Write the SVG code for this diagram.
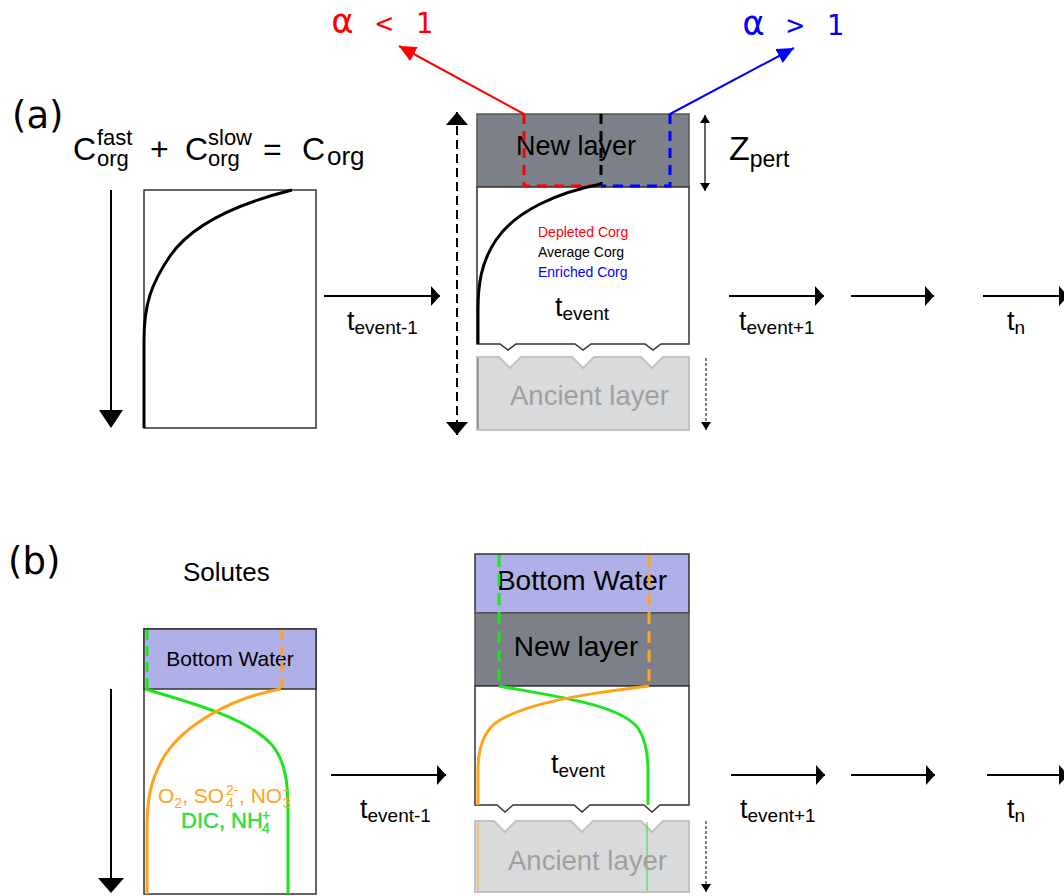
<svg xmlns="http://www.w3.org/2000/svg" width="1064" height="896" viewBox="0 0 1064 896">
<style>
.t{font-family:"Liberation Sans",Arial,sans-serif;fill:#000}
.dv{font-family:"DejaVu Sans",sans-serif;fill:#000}
.mono{font-family:"DejaVu Sans Mono",monospace}
.box{fill:#fff;stroke:#333;stroke-width:1.5}
.bw{fill:#b0b0e8;stroke:#333;stroke-width:1.5}
.nl{fill:#7b8089;stroke:#555;stroke-width:1.5}
.anc{fill:#d9dadc;stroke:#c2c2c2;stroke-width:2}
.anct{font-family:"Liberation Sans",Arial,sans-serif;fill:#a0a0a0;font-size:27.5px}
.blk{fill:none;stroke:#000;stroke-width:3}
.grn{fill:none;stroke:#1ee41e;stroke-width:3}
.org{fill:none;stroke:#ffa31a;stroke-width:3}
.tl{stroke:#000;stroke-width:2;fill:none;marker-end:url(#ah)}
</style>
<defs>
<marker id="ah" markerUnits="userSpaceOnUse" markerWidth="10" markerHeight="22" refX="9" refY="11" orient="auto"><path d="M0,1 L9,11 L0,21 Z" fill="#000"/></marker>
<marker id="big" markerUnits="userSpaceOnUse" markerWidth="14" markerHeight="22" refX="13" refY="11" orient="auto-start-reverse"><path d="M0,0 L13,11 L0,22 Z" fill="#000"/></marker>
<marker id="sm" markerUnits="userSpaceOnUse" markerWidth="9" markerHeight="10" refX="8" refY="5" orient="auto-start-reverse"><path d="M0,0 L8,5 L0,10 Z" fill="#000"/></marker>
<marker id="ahr" markerUnits="userSpaceOnUse" markerWidth="18" markerHeight="16" refX="17" refY="8" orient="auto"><path d="M0,0 L17,8 L0,16 Z" fill="#ff0000"/></marker>
<marker id="ahb" markerUnits="userSpaceOnUse" markerWidth="18" markerHeight="16" refX="17" refY="8" orient="auto"><path d="M0,0 L17,8 L0,16 Z" fill="#0000ff"/></marker>
</defs>

<!-- Panel (a) -->
<g id="label-a"><text class="dv" x="12" y="128" font-size="37">(a)</text></g>
<g id="equation">
<text class="t" font-size="32" y="160">
<tspan x="73">C</tspan>
<tspan x="150">+</tspan>
<tspan x="185">C</tspan>
<tspan x="263">=</tspan>
<tspan x="302">C</tspan>
</text>
<text class="t" font-size="22"><tspan x="97" y="145">fast</tspan><tspan x="97" y="166">org</tspan><tspan x="208" y="145">slow</tspan><tspan x="208" y="166">org</tspan></text>
<text class="t" font-size="26" x="327" y="165">org</text>
</g>

<g id="profile-a0">
<rect class="box" x="144" y="190" width="172" height="238"/>
<path class="blk" d="M292,190 C240,203 192,224 170,256 C151,284 144,305 144,340 L144,428"/>
</g>

<g id="event-a">
<rect class="nl" x="477" y="114" width="212" height="73"/>
<text class="t" x="576" y="155" font-size="27" text-anchor="middle">New layer</text>
<path class="box" d="M477,187 L689,187 L689,344 L661,344 L653,350 L645,344 L591,344 L583,350 L575,344 L516,344 L508,350 L500,344 L477,344 Z"/>
<path d="M524,114 V186 H601" fill="none" stroke="#ff0000" stroke-width="3" stroke-dasharray="10,7"/>
<path d="M670,114 V186 H601" fill="none" stroke="#0000ff" stroke-width="3" stroke-dasharray="10,7"/>
<path d="M601,114 V185" fill="none" stroke="#000" stroke-width="3" stroke-dasharray="10,7"/>
<path class="blk" d="M601,184 C560,192 516,210 496,240 C481,262 478,285 478,310 L478,344"/>
<text class="t" x="538" y="237" font-size="14" style="fill:#ff0000">Depleted Corg</text>
<text class="t" x="538" y="257" font-size="14">Average Corg</text>
<text class="t" x="538" y="277" font-size="14" style="fill:#0000ff">Enriched Corg</text>
<text class="t" x="555" y="316" font-size="27">t<tspan font-size="19" dy="4">event</tspan></text>
</g>

<g id="ancient-a">
<path class="anc" d="M477,357 L499,357 L510,368 L521,357 L572,357 L583,368 L594,357 L641,357 L652,368 L663,357 L689,357 L689,430 L477,430 Z"/>
<line x1="478" y1="358" x2="478" y2="429" stroke="#999" stroke-width="2"/>
<text class="anct" x="510" y="405">Ancient layer</text>
</g>

<g id="alpha-labels">
<text class="mono" x="332" y="33" font-size="29" letter-spacing="2.5" fill="#ff0000"><tspan font-size="35">α</tspan> &lt; 1</text>
<text class="mono" x="743" y="35" font-size="29" letter-spacing="2.5" fill="#0000ff"><tspan font-size="35">α</tspan> &gt; 1</text>
</g>

<g id="zpert">
<text class="t" x="729" y="160" font-size="34">Z<tspan font-size="23" dy="7">pert</tspan></text>
</g>

<g id="time-labels-a">
<text class="t" x="347" y="330" font-size="27">t<tspan font-size="19" dy="4">event-1</tspan></text>
<text class="t" x="739" y="330" font-size="27">t<tspan font-size="19" dy="4">event+1</tspan></text>
<text class="t" x="1007" y="330" font-size="27">t<tspan font-size="19" dy="4">n</tspan></text>
</g>

<!-- Panel (b) -->
<g id="label-b"><text class="dv" x="8" y="574" font-size="37">(b)</text></g>
<g id="solutes-title"><text class="t" x="183" y="581" font-size="26">Solutes</text></g>

<g id="profile-b0">
<rect class="box" x="144" y="629" width="172" height="265"/>
<rect class="bw" x="144" y="629" width="172" height="60"/>
<text class="t" x="230" y="666" font-size="21" text-anchor="middle">Bottom Water</text>
<line x1="147" y1="630" x2="147" y2="688" stroke="#1ee41e" stroke-width="3" stroke-dasharray="10,6"/>
<line x1="282" y1="630" x2="282" y2="688" stroke="#ffa31a" stroke-width="3" stroke-dasharray="10,6"/>
<path class="grn" d="M145,689 C200,705 250,720 272,745 C286,762 288,785 288,810 L288,894"/>
<path class="org" d="M281,689 C230,698 185,725 165,755 C150,780 147,800 147,830 L147,894"/>
<text class="t" font-size="21" style="fill:#ffa31a" y="803"><tspan x="158">O</tspan><tspan font-size="14" dy="5">2</tspan><tspan dy="-5">, SO</tspan></text>
<text class="t" font-size="14" style="fill:#ffa31a"><tspan x="226" y="795">2-</tspan><tspan x="226" y="808">4</tspan></text>
<text class="t" font-size="21" style="fill:#ffa31a" x="239" y="803">, NO</text>
<text class="t" font-size="14" style="fill:#ffa31a"><tspan x="283" y="795">-</tspan><tspan x="283" y="808">3</tspan></text>
<text class="t" font-size="22" style="fill:#33dd44;stroke:#33dd44;stroke-width:0.5" x="181" y="828">DIC, NH</text>
<text class="t" font-size="14" style="fill:#33dd44;stroke:#33dd44;stroke-width:0.4"><tspan x="262" y="820">+</tspan><tspan x="262" y="833">4</tspan></text>
</g>

<g id="event-b">
<rect class="bw" x="475" y="554" width="214" height="59"/>
<rect class="nl" x="475" y="613" width="214" height="73"/>
<text class="t" x="582" y="590" font-size="28" text-anchor="middle">Bottom Water</text>
<text class="t" x="576" y="656" font-size="28" text-anchor="middle">New layer</text>
<path class="box" d="M475,686 L689,686 L689,805 L660,805 L652,812 L644,805 L590,805 L582,812 L574,805 L513,805 L505,812 L497,805 L475,805 Z"/>
<line x1="499" y1="555" x2="499" y2="685" stroke="#1ee41e" stroke-width="3" stroke-dasharray="12,7"/>
<line x1="649" y1="555" x2="649" y2="685" stroke="#ffa31a" stroke-width="3" stroke-dasharray="12,7"/>
<path class="grn" d="M499,686 C560,697 620,705 638,728 C646,740 648,755 648,770 L648,805"/>
<path class="org" d="M649,686 C590,693 520,703 493,725 C480,738 478,755 478,770 L478,805"/>
<text class="t" x="551" y="773" font-size="27">t<tspan font-size="19" dy="4">event</tspan></text>
</g>

<g id="ancient-b">
<path class="anc" d="M475,821 L494,821 L505,832 L516,821 L571,821 L582,832 L593,821 L641,821 L652,832 L663,821 L689,821 L689,892 L475,892 Z"/>
<line x1="478" y1="822" x2="478" y2="891" stroke="#ffa31a" stroke-opacity="0.45" stroke-width="2"/>
<line x1="647" y1="822" x2="647" y2="891" stroke="#1ee41e" stroke-opacity="0.45" stroke-width="2"/>
<text class="anct" x="508" y="870">Ancient layer</text>
</g>

<g id="time-labels-b">
<text class="t" x="360" y="818" font-size="27">t<tspan font-size="19" dy="4">event-1</tspan></text>
<text class="t" x="740" y="818" font-size="27">t<tspan font-size="19" dy="4">event+1</tspan></text>
<text class="t" x="1007" y="818" font-size="27">t<tspan font-size="19" dy="4">n</tspan></text>
</g>

<!-- Connectors -->
<g id="connectors">
<line x1="111" y1="190" x2="111" y2="411" stroke="#000" stroke-width="2"/>
<path d="M99,410 L123,410 L111,428 Z" fill="#000"/>
<line x1="111" y1="689" x2="111" y2="879" stroke="#000" stroke-width="2"/>
<path d="M98,878 L124,878 L111,893 Z" fill="#000"/>
<line class="tl" x1="324" y1="296" x2="440" y2="296"/>
<line class="tl" x1="729" y1="296" x2="824" y2="296"/>
<line class="tl" x1="851" y1="296" x2="934" y2="296"/>
<line class="tl" x1="983" y1="296" x2="1068" y2="296"/>
<line class="tl" x1="331" y1="775" x2="446" y2="775"/>
<line class="tl" x1="731" y1="775" x2="825" y2="775"/>
<line class="tl" x1="851" y1="775" x2="935" y2="775"/>
<line class="tl" x1="987" y1="775" x2="1068" y2="775"/>
<line x1="457" y1="112" x2="457" y2="435" stroke="#000" stroke-width="2" stroke-dasharray="9,5" marker-start="url(#big)" marker-end="url(#big)"/>
<line x1="705" y1="115" x2="705" y2="191" stroke="#000" stroke-width="1.2" marker-start="url(#sm)" marker-end="url(#sm)"/>
<line x1="706" y1="358" x2="706" y2="430" stroke="#000" stroke-width="1" stroke-dasharray="3,2" marker-end="url(#sm)"/>
<line x1="706" y1="821" x2="706" y2="892" stroke="#000" stroke-width="1" stroke-dasharray="3,2" marker-end="url(#sm)"/>
<line x1="524" y1="114" x2="399" y2="46" stroke="#ff0000" stroke-width="2" marker-end="url(#ahr)"/>
<line x1="670" y1="114" x2="794" y2="48" stroke="#0000ff" stroke-width="2" marker-end="url(#ahb)"/>
</g>
</svg>
